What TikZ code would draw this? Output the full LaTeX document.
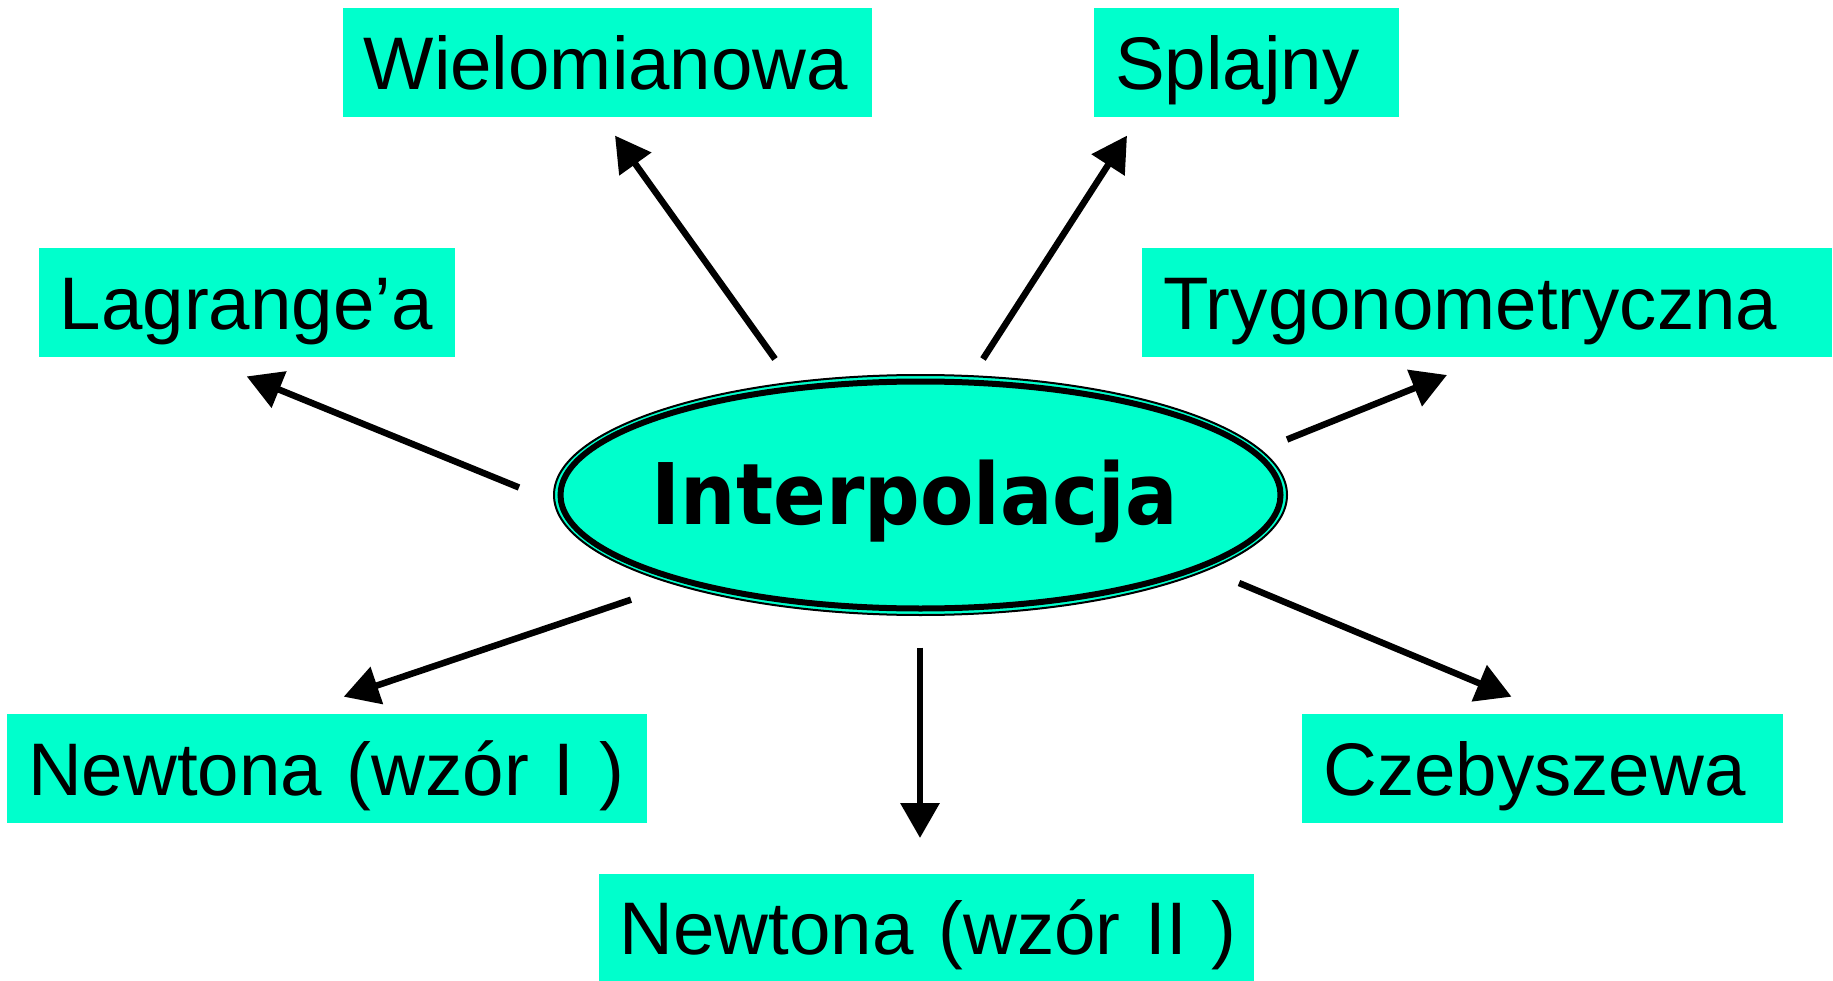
\documentclass[tikz,border=0pt]{standalone}
\usepackage{fontspec}
\usetikzlibrary{arrows.meta}
\newfontfamily\boxfont{Liberation Sans}
\newfontfamily\ellfont[FakeStretch=0.915]{DejaVu Sans}
\definecolor{boxc}{HTML}{00FFCC}
\tikzset{
  box/.style={fill=boxc, anchor=north west, inner xsep=21pt, inner ysep=0pt,
    text height=54pt, text depth=0pt, align=left,
    font={\boxfont\fontsize{74.5pt}{80pt}\selectfont}},
  arr/.style={line width=6.5pt, -{Triangle[length=35pt,width=38pt]}}
}
\begin{document}
\begin{tikzpicture}[x=1pt,y=-1pt]
\useasboundingbox (0,0) rectangle (1833,981);
% boxes
\node[box, text width=487.5pt, minimum height=109pt] (wiel) at (342.5,8) {\mbox{Wielomianowa}};
\node[box, text width=263pt, minimum height=109pt] (spl) at (1094,8) {\mbox{Splajny}};
\node[box, text width=374.4pt, minimum height=108.5pt] (lag) at (38.6,248) {\mbox{Lagrange’a}};
\node[box, text width=648pt, minimum height=108.5pt] (tryg) at (1142,248) {\mbox{Trygonometryczna}};
\node[box, text width=597.5pt, minimum height=109pt] (newI) at (7,714) {\mbox{Newtona (wzór I )}};
\node[box, text width=439pt, minimum height=109pt] (czeb) at (1302,714) {\mbox{Czebyszewa}};
\node[box, text width=613.5pt, minimum height=107pt] (newII) at (598.5,874) {\mbox{Newtona (wzór II )}};
% central ellipse
\coordinate (c) at (920.5,495);
\fill[boxc] (c) ellipse [x radius=367pt, y radius=120.5pt];
\draw[line width=2pt] (c) ellipse [x radius=366.5pt, y radius=120pt];
\draw[line width=6pt] (c) ellipse [x radius=360pt, y radius=113.5pt];
\node[inner sep=0pt, text height=62pt, text depth=0pt,
  font={\ellfont\bfseries\fontsize{85pt}{90pt}\selectfont}] (ell) at (915,493) {Interpolacja};
% arrows
\coordinate (s1) at (775,359);   \coordinate (e1) at (615,135.6);
\coordinate (s2) at (983,359);   \coordinate (e2) at (1127,135.6);
\coordinate (s3) at (519,487.5); \coordinate (e3) at (246.7,376.4);
\coordinate (s4) at (1287,439.5);\coordinate (e4) at (1447,375);
\coordinate (s5) at (631,599.7); \coordinate (e5) at (343.7,696.7);
\coordinate (s6) at (920,647.6); \coordinate (e6) at (920,838);
\coordinate (s7) at (1239,583);  \coordinate (e7) at (1511.5,696.7);
\foreach \i in {1,...,7} {\draw[arr] (s\i) -- (e\i);}
\end{tikzpicture}
\end{document}
